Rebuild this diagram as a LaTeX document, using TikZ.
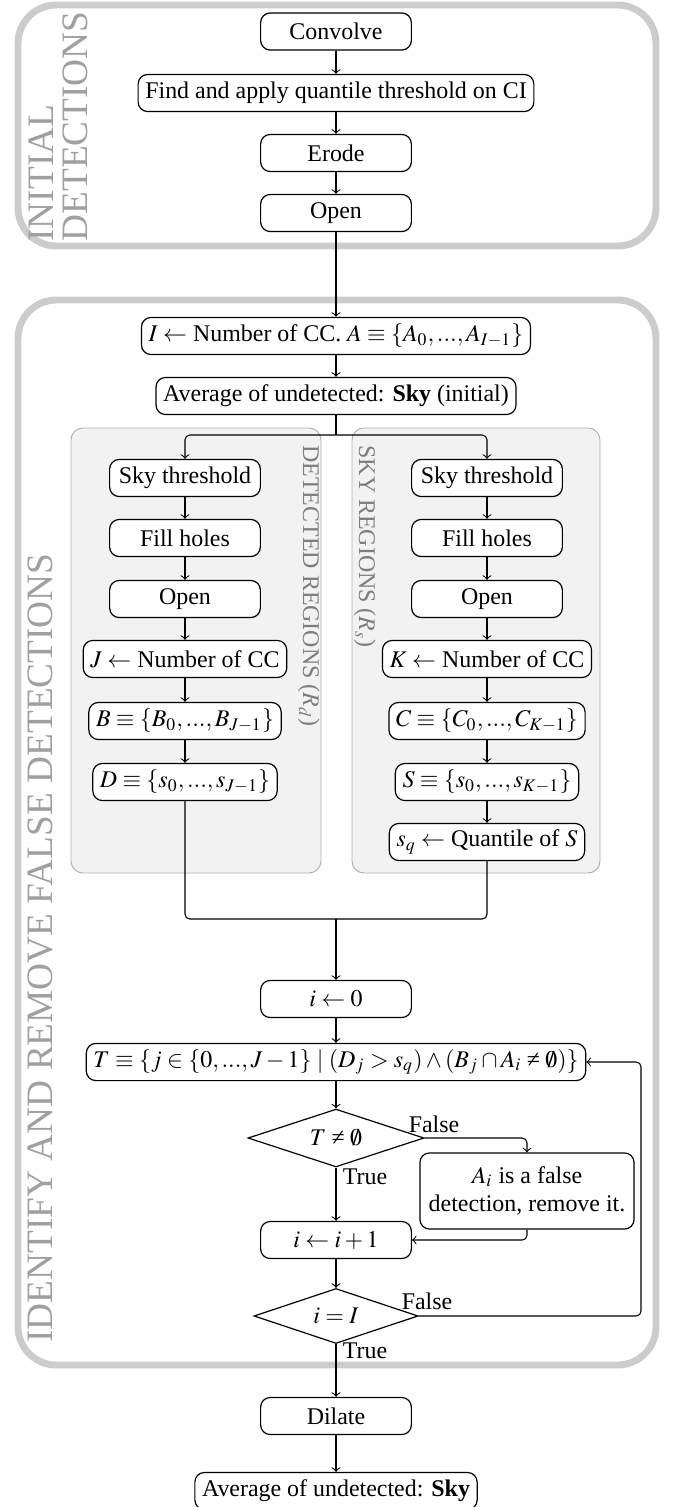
\documentclass[tikz,border=0pt]{standalone}
\usepackage{mathptmx}
\usepackage{fontspec}
\setmainfont{Liberation Serif}
\usetikzlibrary{shapes.geometric}
\definecolor{framecol}{RGB}{204,204,204}
\definecolor{flabcol}{RGB}{160,160,160}
\definecolor{plabcol}{RGB}{125,125,125}
\definecolor{panelfill}{RGB}{242,242,242}
\definecolor{paneldraw}{RGB}{175,175,175}
\newcommand{\myneq}{\mathrel{\mbox{≠}}}
\tikzset{
  procbox/.style={draw, rounded corners=4pt, fill=white, minimum width=63pt, minimum height=15.5pt, inner xsep=3pt, inner ysep=2.5pt, line width=0.5pt},
  decision/.style={draw, diamond, aspect=3, inner sep=0pt, fill=white, line width=0.5pt},
  conn/.style={->, line width=0.45pt},
  plainline/.style={line width=0.45pt},
  stageframe/.style={draw=framecol, line width=2.9pt, rounded corners=16pt},
  regionpanel/.style={draw=paneldraw, fill=panelfill, line width=0.4pt, rounded corners=5pt},
  flabel/.style={text=flabcol, font=\fontsize{15.6}{14.2}\selectfont, inner sep=0pt},
  plabel/.style={text=plabcol, inner sep=0pt},
  branchlabel/.style={inner sep=1pt}
}
\begin{document}
\begin{tikzpicture}[x=0.418pt, y=-0.418pt]
\useasboundingbox (0,0) rectangle (675,1507);
% stage frames
\draw[stageframe] (18,5) rectangle (656,246);
\draw[stageframe] (18,300) rectangle (656,1365);
\node[flabel, rotate=90, anchor=south west, align=left] (labinit) at (88,242) {INITIAL\\DETECTIONS};
\node[flabel, rotate=90, anchor=base west] (labident) at (53,1343) {IDENTIFY AND REMOVE FALSE DETECTIONS};
% region panels
\draw[regionpanel] (71,428) rectangle (321,873);
\draw[regionpanel] (352,428) rectangle (600,873);
\node[plabel, rotate=-90, anchor=base west] (labdet) at (303,445) {DETECTED REGIONS ($R_d$)};
\node[plabel, rotate=-90, anchor=base west] (labsky) at (359,445) {SKY REGIONS ($R_s$)};
% initial detections
\node[procbox] (conv) at (336,31.5) {Convolve};
\node[procbox] (find) at (336,93) {Find and apply quantile threshold on CI};
\node[procbox] (erode) at (336,153) {Erode};
\node[procbox] (open1) at (336,213) {Open};
% identify
\node[procbox] (ibox) at (336,336) {$I\leftarrow$ Number of CC. $A\equiv\{A_0,...,A_{I-1}\}$};
\node[procbox] (avg) at (336,396) {Average of undetected: \textbf{Sky} (initial)};
\coordinate (br) at (336,435);
\node[procbox] (lst) at (185,478) {Sky threshold};
\node[procbox] (lfh) at (185,538) {Fill holes};
\node[procbox] (lop) at (185,599) {Open};
\node[procbox] (lj) at (185,659) {$J\leftarrow$ Number of CC};
\node[procbox] (lb) at (185,721) {$B\equiv\{B_0,...,B_{J-1}\}$};
\node[procbox] (ld) at (185,782) {$D\equiv\{s_0,...,s_{J-1}\}$};
\node[procbox] (rst) at (487,478) {Sky threshold};
\node[procbox] (rfh) at (487,538) {Fill holes};
\node[procbox] (rop) at (487,599) {Open};
\node[procbox] (rk) at (487,659) {$K\leftarrow$ Number of CC};
\node[procbox] (rc) at (487,721) {$C\equiv\{C_0,...,C_{K-1}\}$};
\node[procbox] (rs) at (487,782) {$S\equiv\{s_0,...,s_{K-1}\}$};
\node[procbox] (rsq) at (487,842) {$s_q\leftarrow$ Quantile of $S$};
\coordinate (mg) at (336,919);
\node[procbox] (izero) at (336,999) {$i\leftarrow 0$};
\node[procbox] (tbox) at (336,1062) {$T\equiv\{j\in\{0,...,J-1\}\mid(D_j>s_q)\wedge(B_j\cap A_i\myneq\emptyset)\}$};
\node[decision, minimum width=73.6pt, minimum height=24.2pt] (d1) at (336,1138) {$T\myneq\emptyset$};
\node[procbox, align=center, minimum width=89.5pt, minimum height=31.8pt] (ai) at (527,1191) {$A_i$ is a false\\detection, remove it.};
\node[procbox] (iinc) at (336,1240) {$i\leftarrow i+1$};
\node[decision, minimum width=68.6pt, minimum height=23pt] (d2) at (336,1316) {$i=I$};
\coordinate (fb) at (641,1062);
\node[branchlabel] (f1) at (434,1124) {False};
\node[branchlabel] (t1) at (365,1177) {True};
\node[branchlabel] (f2) at (427,1301) {False};
\node[branchlabel] (t2) at (365,1351) {True};
\node[procbox] (dil) at (336,1416) {Dilate};
\node[procbox] (fin) at (336,1491) {Average of undetected: \textbf{Sky}};
% connectors
\draw[conn] (conv) -- (find);
\draw[conn] (find) -- (erode);
\draw[conn] (erode) -- (open1);
\draw[conn] (open1) -- (ibox);
\draw[conn] (ibox) -- (avg);
\draw[plainline] (avg.south) -- (br);
\draw[conn, rounded corners=2pt] (br) -| (lst.north);
\draw[conn, rounded corners=2pt] (br) -| (rst.north);
\draw[conn] (lst) -- (lfh);
\draw[conn] (lfh) -- (lop);
\draw[conn] (lop) -- (lj);
\draw[conn] (lj) -- (lb);
\draw[conn] (lb) -- (ld);
\draw[conn] (rst) -- (rfh);
\draw[conn] (rfh) -- (rop);
\draw[conn] (rop) -- (rk);
\draw[conn] (rk) -- (rc);
\draw[conn] (rc) -- (rs);
\draw[conn] (rs) -- (rsq);
\draw[plainline, rounded corners=2pt] (ld.south) |- (mg);
\draw[plainline, rounded corners=2pt] (rsq.south) |- (mg);
\draw[conn] (mg) -- (izero);
\draw[conn] (izero) -- (tbox);
\draw[conn] (tbox) -- (d1);
\draw[conn] (d1.south) -- (iinc);
\draw[conn, rounded corners=2pt] (d1.east) -| (ai.north);
\draw[conn, rounded corners=2pt] (ai.south) |- (iinc.east);
\draw[conn] (iinc) -- (d2);
\draw[conn, rounded corners=2pt] (d2.east) -| (fb) -- (tbox.east);
\draw[conn] (d2.south) -- (dil);
\draw[conn] (dil) -- (fin);
\end{tikzpicture}
\end{document}
